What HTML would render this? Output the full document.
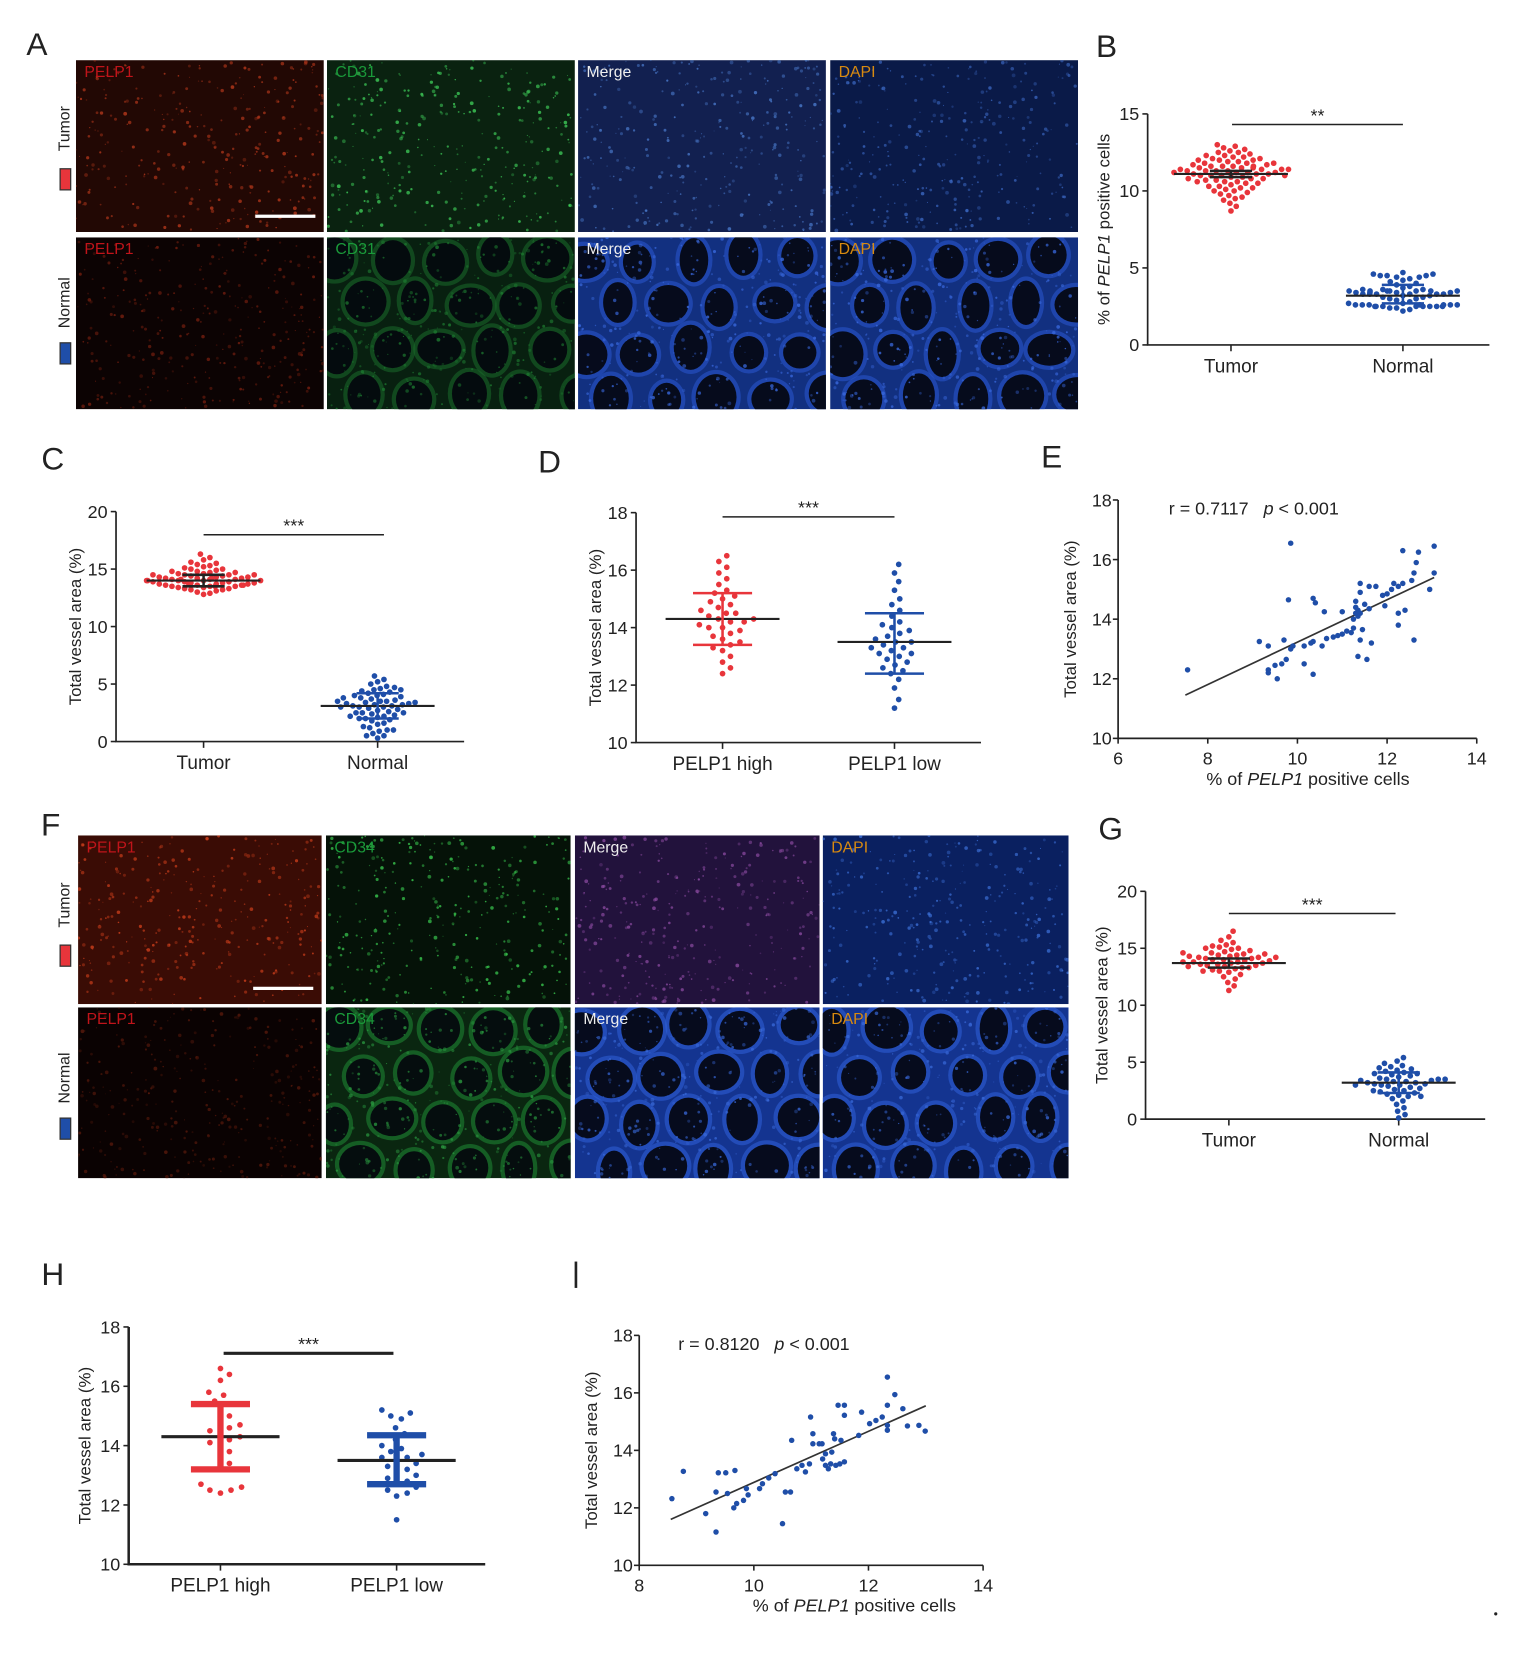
<!DOCTYPE html>
<html><head><meta charset="utf-8"><style>
html,body{margin:0;padding:0;background:#fff;}
svg{display:block;font-family:"Liberation Sans",Arial,sans-serif;}
</style></head><body>
<svg id="fig" width="1520" height="1655" viewBox="0 0 1441 1569" preserveAspectRatio="none" xmlns="http://www.w3.org/2000/svg">
<defs id="defs"></defs>
<rect x="0" y="0" width="1441" height="1569" fill="#fff"/>
</svg>
<script>
// ---------------- data ----------------
const bTumor=[8.7,9.0,9.2,9.4,9.5,9.6,9.7,9.8,9.9,10.0,10.0,10.1,10.2,10.2,10.3,10.3,10.4,10.5,10.5,10.6,10.6,10.7,10.7,10.8,10.8,10.9,10.9,11.0,11.0,11.0,11.1,11.1,11.1,11.2,11.2,11.2,11.3,11.3,11.3,11.3,11.4,11.4,11.4,11.5,11.5,11.5,11.6,11.6,11.6,11.7,11.7,11.8,11.8,11.9,11.9,12.0,12.0,12.1,12.1,12.2,12.2,12.3,12.3,12.4,12.5,12.5,12.6,12.7,12.8,12.9,13.0,11.0,11.2,11.4,10.8,11.6,11.8,10.6,12.0];
const bNormal=[2.2,2.3,2.4,2.4,2.5,2.5,2.5,2.5,2.5,2.5,2.6,2.6,2.6,2.6,2.6,2.6,2.7,2.7,2.8,2.9,3.0,3.0,3.1,3.1,3.2,3.2,3.3,3.3,3.3,3.3,3.3,3.3,3.4,3.4,3.4,3.5,3.5,3.5,3.5,3.5,3.5,3.6,3.6,3.6,3.7,3.8,3.9,4.0,4.1,4.2,4.3,4.4,4.4,4.5,4.5,4.5,4.6,4.6,4.7,2.5,2.5,2.6,3.4,3.5];
const bStats=[[11.1,10.9,11.3],[3.2,2.7,3.9]];
const cTumor=[12.8,12.9,13.0,13.1,13.2,13.2,13.3,13.3,13.4,13.4,13.5,13.5,13.5,13.6,13.6,13.6,13.7,13.7,13.7,13.8,13.8,13.8,13.9,13.9,13.9,14.0,14.0,14.0,14.0,14.1,14.1,14.1,14.2,14.2,14.2,14.3,14.3,14.3,14.4,14.4,14.5,14.5,14.5,14.6,14.6,14.7,14.7,14.8,14.8,14.9,15.0,15.0,15.1,15.2,15.3,15.4,15.5,15.6,15.8,16.0,16.3,13.5,13.8,14.0,14.2,14.5,13.6,14.1];
const cNormal=[0.3,0.5,0.7,0.9,1.0,1.2,1.3,1.5,1.6,1.8,1.9,2.0,2.1,2.2,2.3,2.4,2.5,2.5,2.6,2.7,2.8,2.9,3.0,3.0,3.1,3.1,3.2,3.2,3.3,3.3,3.4,3.4,3.5,3.5,3.6,3.7,3.8,3.9,4.0,4.1,4.2,4.3,4.4,4.5,4.6,4.7,4.8,5.0,5.2,5.4,5.7,0.5,1.0,2.0,2.5,3.0,3.5,4.0,4.5,2.2,3.8];
const cStats=[[14.0,13.5,14.5],[3.1,2.0,4.2]];
const dHigh=[12.4,12.6,12.8,13.0,13.2,13.3,13.4,13.5,13.6,13.7,13.8,13.9,14.0,14.0,14.1,14.2,14.2,14.3,14.3,14.4,14.5,14.5,14.6,14.7,14.8,14.9,15.0,15.1,15.2,15.3,15.5,15.7,15.9,16.1,16.3,16.5];
const dLow=[11.2,11.5,11.9,12.2,12.4,12.5,12.6,12.7,12.8,12.9,13.0,13.1,13.1,13.2,13.3,13.3,13.4,13.5,13.5,13.6,13.7,13.8,13.9,14.0,14.1,14.2,14.4,14.6,14.8,15.0,15.3,15.6,15.9,16.2];
const dStats=[[14.3,13.4,15.2],[13.5,12.4,14.5]];
const gTumor=[11.3,11.7,12.0,12.3,12.5,12.7,12.9,13.0,13.1,13.2,13.3,13.3,13.4,13.5,13.5,13.6,13.6,13.7,13.7,13.8,13.8,13.9,13.9,14.0,14.0,14.1,14.1,14.2,14.2,14.3,14.3,14.4,14.4,14.5,14.5,14.6,14.7,14.8,14.9,15.0,15.1,15.2,15.3,15.5,15.7,16.0,16.5,13.4,13.8,14.2,14.6,13.0,15.0];
const gNormal=[0.1,0.4,0.7,1.0,1.3,1.6,1.8,2.0,2.1,2.2,2.3,2.4,2.5,2.6,2.7,2.8,2.9,3.0,3.0,3.1,3.1,3.2,3.2,3.3,3.3,3.4,3.4,3.5,3.5,3.6,3.7,3.8,3.9,4.0,4.1,4.2,4.3,4.4,4.5,4.6,4.7,4.9,5.1,5.4,2.5,3.0,3.5,4.0,2.0];
const gStats=[[13.7,13.3,14.1],[3.2,2.3,4.1]];
const hHigh=[12.4,12.5,12.5,12.6,12.7,13.2,13.4,13.6,13.8,14.0,14.1,14.2,14.3,14.4,14.5,14.6,14.7,14.8,15.0,15.2,15.4,15.5,15.7,15.8,16.2,16.4,16.6];
const hLow=[11.5,12.3,12.4,12.5,12.6,12.7,12.8,12.9,13.0,13.1,13.2,13.3,13.4,13.5,13.6,13.6,13.7,13.8,13.9,14.0,14.2,14.4,14.6,14.9,15.0,15.1,15.2];
const hStats=[[14.3,13.2,15.4],[13.5,12.7,14.35]];
const eX=[7.55,9.85,9.8,9.15,9.35,9.7,9.35,9.35,9.5,9.55,9.65,9.75,9.85,9.9,10.15,10.15,10.3,10.35,10.35,10.35,10.4,10.55,10.6,10.65,10.8,10.9,11.0,11.0,11.1,11.2,11.25,11.25,11.3,11.3,11.3,11.35,11.35,11.4,11.4,11.35,11.4,11.4,11.45,11.5,11.55,11.6,11.65,11.6,11.75,11.9,11.95,12.0,12.1,12.15,12.25,12.25,12.25,12.35,12.35,12.4,12.55,12.6,12.6,12.65,12.7,12.95,13.05,13.05];
const eY=[12.3,16.55,14.65,13.25,13.1,13.3,12.2,12.3,12.45,12.0,12.5,12.65,13.0,13.1,13.1,12.5,13.2,13.25,12.15,14.7,14.55,13.1,14.25,13.35,13.4,13.45,13.5,14.25,13.6,13.55,13.7,14.0,14.2,14.4,14.6,14.3,14.1,14.2,13.3,12.75,14.9,15.2,13.65,14.5,12.65,14.35,13.2,15.1,15.1,14.8,14.45,14.85,15.0,15.2,15.1,14.2,13.8,15.2,16.3,14.3,15.3,15.55,13.3,15.9,16.25,15.0,16.45,15.55];
const eFit=[[7.5,11.45],[13.05,15.4]];
const iX=[8.57,8.77,9.16,9.34,9.34,9.38,9.51,9.54,9.67,9.65,9.7,9.82,9.87,9.9,10.1,10.15,10.26,10.37,10.5,10.55,10.64,10.66,10.75,10.84,10.9,10.97,10.99,11.03,11.03,11.14,11.19,11.2,11.25,11.25,11.3,11.34,11.36,11.39,11.41,11.43,11.47,11.5,11.52,11.58,11.58,11.58,11.83,11.88,12.02,12.13,12.24,12.33,12.33,12.33,12.33,12.46,12.6,12.68,12.88,12.99];
const iY=[12.32,13.27,11.8,11.16,12.55,13.22,13.22,12.5,13.3,12.0,12.15,12.26,12.67,12.45,12.67,12.84,13.04,13.19,11.45,12.55,12.55,14.35,13.36,13.48,13.25,13.53,15.16,14.23,14.58,14.23,14.23,13.7,13.88,13.48,13.36,13.53,13.94,14.58,14.4,13.48,15.57,13.53,14.35,15.57,15.22,13.6,14.52,15.33,14.93,15.04,15.16,16.55,15.57,14.87,14.7,15.94,15.45,14.85,14.87,14.67];
const iFit=[[8.55,11.6],[13.0,15.55]];

// --------------- helpers ---------------
const svg=document.getElementById('fig');
const defs=document.getElementById('defs');
const NS='http://www.w3.org/2000/svg';
function el(tag,attrs,parent){const e=document.createElementNS(NS,tag);for(const k in attrs)e.setAttribute(k,attrs[k]);(parent||svg).appendChild(e);return e;}
function txt(x,y,s,size,anchor,parent,extra){const t=el('text',Object.assign({x:x,y:y,'font-size':size,'text-anchor':anchor||'middle',fill:'#222'},extra||{}),parent);t.textContent=s;return t;}
let seed=7;function rnd(){seed=(seed*16807)%2147483647;return seed/2147483647;}
const RED='#e8353b',BLUE='#1f4ea8';
let clipId=0;

function panelLetter(x,y,s){const t=txt(x,y,s,30,'middle');

}

function tile(x,y,w,h,base,speck,label,labelColor,glands,glandCol,name){
 const id='clip'+(clipId++);
 const cp=el('clipPath',{id:id},defs);
 el('rect',{x:x,y:y,width:w,height:h},cp);
 const g=el('g',{'clip-path':'url(#'+id+')'});
 
 
 el('rect',{x:x,y:y,width:w,height:h,fill:base},g);
 if(glands){
  let row=0;
  for(let gy=y+20;gy<y+h+30;gy+=44,row++){for(let gx=x+10+(row%2?24:0);gx<x+w+30;gx+=50){
   const rx=13+rnd()*8,ry=15+rnd()*7,cx=gx+rnd()*8-4,cy=gy+rnd()*8-4;
   el('ellipse',{cx:cx,cy:cy,rx:rx+4,ry:ry+4,fill:glandCol,opacity:0.55},g);
   el('ellipse',{cx:cx,cy:cy,rx:rx,ry:ry,fill:'#03040c',opacity:0.9},g);
  }}
 }
 for(let i=0;i<300;i++){el('circle',{cx:x+rnd()*w,cy:y+rnd()*h,r:0.5+rnd()*1.3,fill:speck,opacity:0.3+rnd()*0.5},g);}
 const t=txt(x+8,y+16,label,15,'start',g,{fill:labelColor});
 
 
}
function rowLabel(x,y,s,col){
 const t=txt(0,0,s,15,'middle',svg,{transform:'translate('+x+','+y+') rotate(-90)'});
 
 
 const r=el('rect',{x:x-9,y:y+38,width:10,height:20,fill:col,stroke:'#333','stroke-width':1.2});
 
 
}
function imageGrid(cols,rows,labels,tumorStyles,normalStyles,prefix){
 rows.forEach((ry,ri)=>{cols.forEach((cx,ci)=>{
   const st=(ri===0?tumorStyles:normalStyles)[ci];
   tile(cx[0],ry[0],cx[1]-cx[0],ry[1]-ry[0],st[0],st[1],labels[ci],st[2],ri===1&&ci>=1,st[3],prefix+'-'+(ri===0?'tumor':'normal')+'-'+labels[ci].toLowerCase());
 });});
}

// beeswarm offsets (layout only), capped width
function swarm(yList,minD,maxW){
 const placed=[];const out=[];
 yList.forEach(y=>{
  let x=null;
  for(let k=0;k<400;k++){
   const c=(k%2?1:-1)*Math.ceil(k/2)*0.5;
   if(Math.abs(c)>maxW)break;
   if(placed.every(p=>(p[0]-c)*(p[0]-c)+(p[1]-y)*(p[1]-y)>=minD*minD)){x=c;break;}
  }
  if(x===null)x=(rnd()*2-1)*maxW;
  placed.push([x,y]);out.push(x);
 });
 return out;
}

function catPlot(p){
 const g=el('g',{});
 
 
 const ys=v=>p.yBot-(v-p.vmin)/(p.vmax-p.vmin)*(p.yBot-p.yTop);
 const ax=el('path',{d:`M${p.x0},${p.yTop}V${p.yBot}H${p.xEnd}`,fill:'none',stroke:'#222','stroke-width':p.thick?2.4:1.6},g);
 
 
 p.ticks.forEach(v=>{
  el('line',{x1:p.x0-5,x2:p.x0,y1:ys(v),y2:ys(v),stroke:'#222','stroke-width':1.5},g);
  const t=txt(p.x0-8,ys(v)+6,String(v),17,'end',g);
  
  
 });
 p.cats.forEach((c,i)=>{
  el('line',{x1:p.cx[i],x2:p.cx[i],y1:p.yBot,y2:p.yBot+6,stroke:'#222','stroke-width':1.5},g);
  const t=txt(p.cx[i],p.yBot+26,c,18,'middle',g);
  
  
 });
 const yt=txt(0,0,p.title,16,'middle',g,{transform:`translate(${p.titleX},${(p.yTop+p.yBot)/2}) rotate(-90)`});
 
 
 if(p.titleItalic){yt.textContent='';const a=el('tspan',{},yt);a.textContent='% of ';const b=el('tspan',{'font-style':'italic'},yt);b.textContent='PELP1';const c=el('tspan',{},yt);c.textContent=' positive cells';}
 const r=2.7,minD=p.minD||6.5,maxW=p.maxW||55;
 p.data.forEach((arr,gi)=>{
  const yList=arr.map(ys);
  const offs=swarm(yList,minD,maxW);
  arr.forEach((v,j)=>{
   const d=el('circle',{cx:p.cx[gi]+offs[j],cy:yList[j],r:r,fill:p.colors[gi]},g);
   
   
  });
 });
 p.stats.forEach((s,gi)=>{
  const m=el('line',{x1:p.cx[gi]-p.meanW,x2:p.cx[gi]+p.meanW,y1:ys(s[0]),y2:ys(s[0]),stroke:'#222','stroke-width':p.thick?3:2},g);
  
  
  const ec=p.errCol?p.errCol[gi]:'#222',ew=p.thick?6:2.4;
  const e=el('path',{d:`M${p.cx[gi]},${ys(s[1])}V${ys(s[2])}M${p.cx[gi]-p.capW},${ys(s[1])}H${p.cx[gi]+p.capW}M${p.cx[gi]-p.capW},${ys(s[2])}H${p.cx[gi]+p.capW}`,fill:'none',stroke:ec,'stroke-width':ew},g);
  
  
 });
 const sl=el('line',{x1:p.sig[0],x2:p.sig[1],y1:p.sig[2],y2:p.sig[2],stroke:'#222','stroke-width':p.thick?3:1.4},g);
 
 
 const st=txt((p.sig[0]+p.sig[1])/2,p.sig[2]-3,p.stars,17,'middle',g);
 
 
}

function scatPlot(p){
 const g=el('g',{});
 
 
 const xs=v=>p.x0+(v-p.xmin)/(p.xmax-p.xmin)*(p.xEnd-p.x0);
 const ys=v=>p.yBot-(v-p.vmin)/(p.vmax-p.vmin)*(p.yBot-p.yTop);
 const ax=el('path',{d:`M${p.x0},${p.yTop}V${p.yBot}H${p.xEnd}`,fill:'none',stroke:'#222','stroke-width':1.6},g);
 
 
 p.yticks.forEach(v=>{
  el('line',{x1:p.x0-5,x2:p.x0,y1:ys(v),y2:ys(v),stroke:'#222','stroke-width':1.5},g);
  const t=txt(p.x0-6,ys(v)+6,String(v),17,'end',g);
  
  
 });
 p.xticks.forEach(v=>{
  el('line',{x1:xs(v),x2:xs(v),y1:p.yBot,y2:p.yBot+5,stroke:'#222','stroke-width':1.5},g);
  const t=txt(xs(v),p.yBot+25,String(v),17,'middle',g);
  
  
 });
 const yt=txt(0,0,'Total vessel area (%)',16,'middle',g,{transform:`translate(${p.titleX},${(p.yTop+p.yBot)/2}) rotate(-90)`});
 
 
 const xt=txt(p.xTitleX,p.yBot+44,'',17,'middle',g);
 
 
 const a=el('tspan',{},xt);a.textContent='% of ';const b=el('tspan',{'font-style':'italic'},xt);b.textContent='PELP1';const c=el('tspan',{},xt);c.textContent=' positive cells';
 const st=txt(p.statX,p.yTop+14,'',17,'start',g);
 
 
 const s1=el('tspan',{},st);s1.textContent=p.rtext+'\u00a0\u00a0\u00a0';const s2=el('tspan',{'font-style':'italic'},st);s2.textContent='p';const s3=el('tspan',{},st);s3.textContent=' < 0.001';
 const fl=el('line',{x1:xs(p.fit[0][0]),y1:ys(p.fit[0][1]),x2:xs(p.fit[1][0]),y2:ys(p.fit[1][1]),stroke:'#333','stroke-width':1.6},g);
 
 
 p.px.forEach((v,i)=>{
  const d=el('circle',{cx:xs(v),cy:ys(p.py[i]),r:2.6,fill:BLUE},g);
  
  
 });
}

// --------------- build ---------------
panelLetter(35,52,'A');
rowLabel(66,122,'Tumor',RED);rowLabel(66,287,'Normal',BLUE);
imageGrid([[72,307],[310,545],[548,783],[787,1022]],[[57,220],[225,388]],['PELP1','CD31','Merge','DAPI'],
 [['#220804','#b8391c','#c0141a'],['#0a2210','#3fcf5a','#1a9a3a'],['#122050','#4a7acc','#eee'],['#0a1a48','#3a66c0','#d88a10']],
 [['#0c0303','#7a2010','#c0141a'],['#082010','#1d7a30','#1a9a3a','#1a6a2a'],['#123080','#3a6ae0','#eee','#2a58d0'],['#123080','#3a6ae0','#d88a10','#2a58d0']],'panel-a');
const sb=el('line',{x1:242,x2:299,y1:205,y2:205,stroke:'#fff','stroke-width':3});



panelLetter(1049,54,'B');
catPlot({name:'panel-b-chart',x0:1088,xEnd:1412,yTop:108,yBot:327,vmin:0,vmax:15,ticks:[0,5,10,15],cats:['Tumor','Normal'],cx:[1167,1330],
 data:[bTumor,bNormal],colors:[RED,BLUE],stats:bStats,meanW:54,capW:20,sig:[1168,1330,118],stars:'**',title:'',titleX:1052,titleItalic:true,errCol:['#222',BLUE],minD:6.5,maxW:55});

panelLetter(50,445,'C');
catPlot({name:'panel-c-chart',x0:110,xEnd:440,yTop:485,yBot:703,vmin:0,vmax:20,ticks:[0,5,10,15,20],cats:['Tumor','Normal'],cx:[193,358],
 data:[cTumor,cNormal],colors:[RED,BLUE],stats:cStats,meanW:54,capW:20,sig:[193,364,507],stars:'***',title:'Total vessel area (%)',titleX:77,errCol:['#222',BLUE],minD:6,maxW:55});

panelLetter(521,448,'D');
catPlot({name:'panel-d-chart',x0:603,xEnd:930,yTop:486,yBot:704,vmin:10,vmax:18,ticks:[10,12,14,16,18],cats:['PELP1 high','PELP1 low'],cx:[685,848],
 data:[dHigh,dLow],colors:[RED,BLUE],stats:dStats,meanW:54,capW:28,sig:[685,848,490],stars:'***',title:'Total vessel area (%)',titleX:570,errCol:[RED,BLUE],minD:9,maxW:30});

panelLetter(997,443,'E');
scatPlot({name:'panel-e-chart',x0:1060,xEnd:1400,xmin:6,xmax:14,yTop:474,yBot:700,vmin:10,vmax:18,yticks:[10,12,14,16,18],xticks:[6,8,10,12,14],
 px:eX,py:eY,fit:eFit,titleX:1020,statX:1108,xTitleX:1240,rtext:'r = 0.7117'});

panelLetter(48,792,'F');
rowLabel(66,858,'Tumor',RED);rowLabel(66,1022,'Normal',BLUE);
imageGrid([[74,305],[309,541],[545,777],[780,1013]],[[792,952],[955,1117]],['PELP1','CD34','Merge','DAPI'],
 [['#3a0c05','#d0401c','#c0141a'],['#051208','#3acc50','#1a9a3a'],['#22123c','#8a4aa0','#eee'],['#0a2060','#3c70d8','#d88a10']],
 [['#0a0202','#5a1a0c','#c0141a'],['#0a2610','#2a9a40','#1a9a3a','#1f8a34'],['#143490','#3868d8','#eee','#3060d8'],['#143490','#3868d8','#d88a10','#3060d8']],'panel-f');
const sb2=el('line',{x1:240,x2:297,y1:937,y2:937,stroke:'#fff','stroke-width':3});



panelLetter(1053,796,'G');
catPlot({name:'panel-g-chart',x0:1086,xEnd:1408,yTop:845,yBot:1061,vmin:0,vmax:20,ticks:[0,5,10,15,20],cats:['Tumor','Normal'],cx:[1165,1326],
 data:[gTumor,gNormal],colors:[RED,BLUE],stats:gStats,meanW:54,capW:20,sig:[1165,1323,866],stars:'***',title:'Total vessel area (%)',titleX:1050,errCol:['#222',BLUE],minD:6.5,maxW:55});

panelLetter(50,1218,'H');
catPlot({name:'panel-h-chart',x0:122,xEnd:460,yTop:1258,yBot:1483,vmin:10,vmax:18,ticks:[10,12,14,16,18],cats:['PELP1 high','PELP1 low'],cx:[209,376],
 data:[hHigh,hLow],colors:[RED,BLUE],stats:hStats,meanW:56,capW:28,sig:[212,373,1283],stars:'***',title:'Total vessel area (%)',titleX:86,errCol:[RED,BLUE],thick:true,minD:10,maxW:30});

const il=el('line',{x1:546,x2:546,y1:1196,y2:1221,stroke:'#222','stroke-width':2.5});


scatPlot({name:'panel-i-chart',x0:606,xEnd:932,xmin:8,xmax:14,yTop:1266,yBot:1484,vmin:10,vmax:18,yticks:[10,12,14,16,18],xticks:[8,10,12,14],
 px:iX,py:iY,fit:iFit,titleX:566,statX:643,xTitleX:810,rtext:'r = 0.8120'});
const dot=el('circle',{cx:1418,cy:1530,r:1.5,fill:'#222'});


</script>
</body></html>
